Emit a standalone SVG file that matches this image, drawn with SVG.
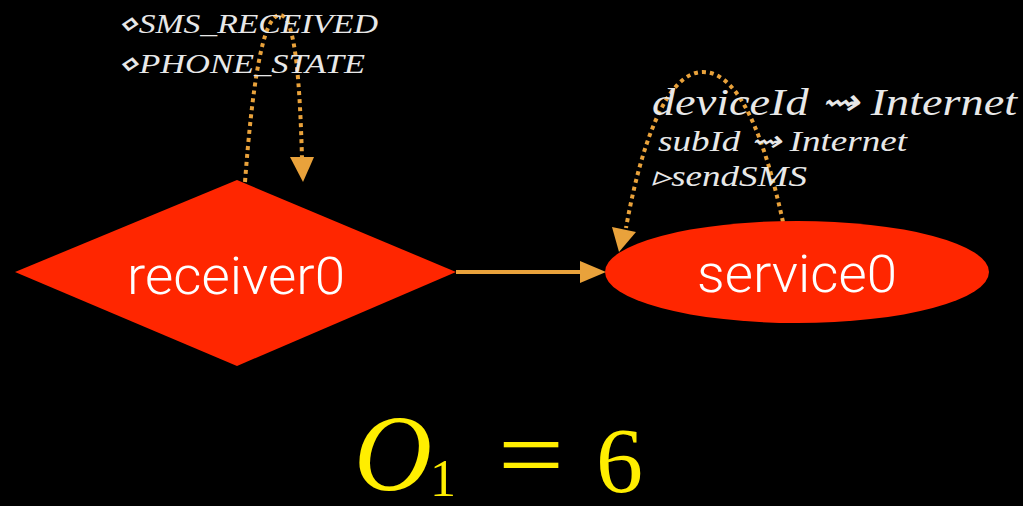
<svg xmlns="http://www.w3.org/2000/svg" width="1023" height="506" viewBox="0 0 1023 506">
<style>
.node{fill:#FF2600;}
.nlabel{fill:#FFFFFF;font-family:Roboto,"Liberation Sans",sans-serif;font-weight:300;font-size:51px;text-anchor:middle;}
.edge{fill:none;stroke:#E9A23B;stroke-width:4;}
.dot{stroke-dasharray:4 4;}
.elabel{fill:#E8E8E8;font-family:"Liberation Serif",serif;font-style:italic;font-weight:400;}
.math{fill:#FFEE00;font-family:"Liberation Serif",serif;}
</style>
<rect width="1023" height="506" fill="#000000"/>
<g id="connectors">
<path class="edge" d="M456,272 L582,272"/>
<path d="M580,261 L606,272 L580,283 Z" fill="#E9A23B"/>
<path class="edge dot" d="M245,182 C252,90 262,15 280,15 C296,15 300,90 302,158"/>
<path d="M290,157 L314,157 L303,182 Z" fill="#E9A23B"/>
<path class="edge dot" d="M783,222 C765,140 740,72 703,72 C665,72 640,150 626,228"/>
<path d="M612,227 L636,232 L619,252 Z" fill="#E9A23B"/>
<g id="loop-receiver0-label" class="elabel">
<text x="117" y="33" font-size="28" textLength="261" lengthAdjust="spacingAndGlyphs">⋄SMS_RECEIVED</text>
<text x="117" y="73" font-size="28" textLength="248" lengthAdjust="spacingAndGlyphs">⋄PHONE_STATE</text>
</g>
<g id="loop-service0-label" class="elabel">
<text x="652" y="115" font-size="38" textLength="365" lengthAdjust="spacingAndGlyphs">deviceId ⇝ Internet</text>
<text x="658" y="151" font-size="29" textLength="249" lengthAdjust="spacingAndGlyphs">subId ⇝ Internet</text>
<text x="652" y="186" font-size="29" textLength="155" lengthAdjust="spacingAndGlyphs">▹sendSMS</text>
</g>
</g>
<g id="receiver0">
<polygon class="node" points="15,272 237,180 456,272 237,366"/>
<text class="nlabel" x="236" y="294" textLength="218" lengthAdjust="spacingAndGlyphs">receiver0</text>
</g>
<g id="service0">
<ellipse class="node" cx="797" cy="272" rx="192" ry="51"/>
<text class="nlabel" x="797" y="292" textLength="200" lengthAdjust="spacingAndGlyphs">service0</text>
</g>
<g id="formula" class="math">
<text x="354" y="490" font-size="108" font-style="italic">O</text>
<text x="430" y="496" font-size="52">1</text>
<text x="498" y="490" font-size="104" textLength="66" lengthAdjust="spacingAndGlyphs">=</text>
<text x="596" y="492" font-size="94">6</text>
</g>
</svg>
